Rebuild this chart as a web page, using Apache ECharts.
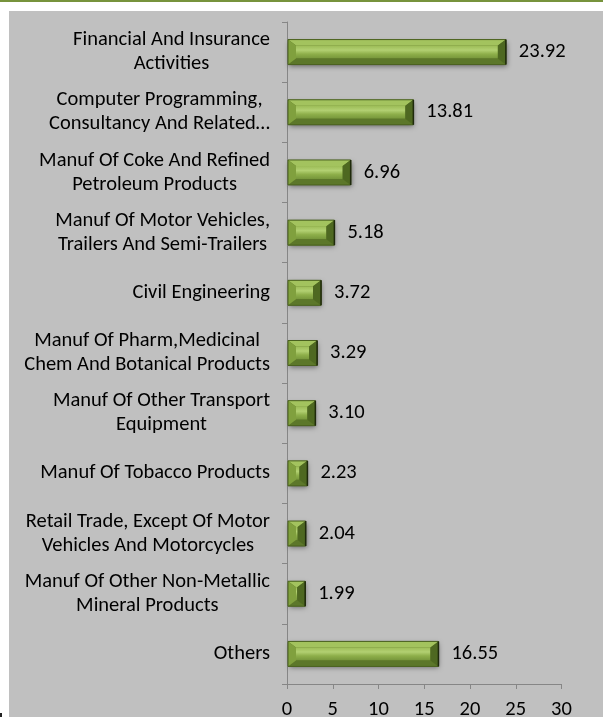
<!DOCTYPE html>
<html>
<head>
<meta charset="utf-8">
<script src="https://cdn.jsdelivr.net/npm/echarts@6/dist/echarts.min.js"></script>
<style>
  html, body { margin: 0; padding: 0; background: #ffffff; }
  #chart { width: 603px; height: 717px; }
</style>
</head>
<body>
<div id="chart"></div>
<script>
// Sector names (top to bottom) and their shares
const categories = [
  'Financial And Insurance\nActivities',
  'Computer Programming,\nConsultancy And Related…',
  'Manuf Of Coke And Refined\nPetroleum Products',
  'Manuf Of Motor Vehicles,\nTrailers And Semi-Trailers',
  'Civil Engineering',
  'Manuf Of Pharm,Medicinal\nChem And Botanical Products',
  'Manuf Of Other Transport\nEquipment',
  'Manuf Of Tobacco Products',
  'Retail Trade, Except Of Motor\nVehicles And Motorcycles',
  'Manuf Of Other Non-Metallic\nMineral Products',
  'Others'
];
const values = [23.92, 13.81, 6.96, 5.18, 3.72, 3.29, 3.10, 2.23, 2.04, 1.99, 16.55];

// Value axis ticks
const axisMin = 0;
const axisMax = 30;
const axisStep = 5;

const FONT = 'Carlito, Calibri, Lato, "Liberation Sans", sans-serif';
const FONT_SIZE = 20.5;

// Bevelled bar: base with drop shadow, four bevel faces, a shaded face and the value label
function renderBar(params, api) {
  const val = api.value(0);
  const idx = api.value(1);
  const base = api.coord([0, idx]);
  const tip = api.coord([val, idx]);
  const band = api.size([0, 1])[1];
  const h = Math.round(band * 0.41);
  const x0 = base[0] + 1;
  const x1 = tip[0];
  const yc = base[1];
  const y0 = yc - h / 2;
  const y1 = yc + h / 2;
  const w = x1 - x0;
  const bx = Math.min(8, w / 2);
  const by = Math.min(6, h / 2);

  return {
    type: 'group',
    children: [
      {
        type: 'rect',
        shape: { x: x0, y: y0, width: w, height: h },
        style: {
          fill: '#5b7526',
          shadowBlur: 5, shadowOffsetX: 1, shadowOffsetY: 2,
          shadowColor: 'rgba(0,0,0,0.45)'
        }
      },
      {
        type: 'rect',
        shape: { x: x0 + bx, y: y0 + by, width: Math.max(0, w - 2 * bx), height: h - 2 * by },
        style: {
          fill: new echarts.graphic.LinearGradient(0, 0, 0, 1, [
            { offset: 0, color: '#9cbc56' },
            { offset: 0.35, color: '#b2d072' },
            { offset: 0.65, color: '#8eaf4a' },
            { offset: 1, color: '#76963b' }
          ])
        }
      },
      {
        type: 'polygon',
        shape: { points: [[x0, y0], [x1, y0], [x1 - bx, y0 + by], [x0 + bx, y0 + by]] },
        style: { fill: '#a3c35e' }
      },
      {
        type: 'polygon',
        shape: { points: [[x0, y1], [x1, y1], [x1 - bx, y1 - by], [x0 + bx, y1 - by]] },
        style: { fill: '#5c772a' }
      },
      {
        type: 'polygon',
        shape: { points: [[x0, y0], [x0 + bx, y0 + by], [x0 + bx, y1 - by], [x0, y1]] },
        style: { fill: '#80a03e' }
      },
      {
        type: 'polygon',
        shape: { points: [[x1, y0], [x1 - bx, y0 + by], [x1 - bx, y1 - by], [x1, y1]] },
        style: { fill: '#4e6821' }
      },
      {
        type: 'rect',
        shape: { x: x0, y: y0, width: w, height: h },
        style: { fill: 'none', stroke: '#4a611f', lineWidth: 1 }
      },
      {
        type: 'line',
        shape: { x1: x1, y1: y0, x2: x1, y2: y1 },
        style: { stroke: '#1f2a0c', lineWidth: 1.5 }
      },
      {
        type: 'text',
        style: {
          text: val.toFixed(2),
          x: x1 + 13, y: yc,
          align: 'left', verticalAlign: 'middle',
          fontSize: FONT_SIZE, fontFamily: FONT, fill: '#000000'
        }
      }
    ]
  };
}

const chart = echarts.init(document.getElementById('chart'), null, { renderer: 'canvas' });

chart.setOption({
  animation: false,
  backgroundColor: '#ffffff',
  graphic: [
    { type: 'rect', shape: { x: 0, y: 0, width: 603, height: 2 }, style: { fill: '#77933c' }, z: -1 },
    { type: 'rect', shape: { x: 9, y: 11, width: 594, height: 706 }, style: { fill: '#c0c0c0' }, z: -1 },
    { type: 'rect', shape: { x: 0, y: 713, width: 2, height: 4 }, style: { fill: '#222222' }, z: -1 }
  ],
  grid: {
    left: 287, right: 41.5, top: 22, bottom: 33,
    containLabel: false,
    outerBoundsMode: 'none'
  },
  xAxis: {
    type: 'value',
    min: axisMin, max: axisMax, interval: axisStep,
    axisLine: { show: true, lineStyle: { color: '#868686', width: 1 } },
    axisTick: { show: true, length: 5, lineStyle: { color: '#868686' } },
    splitLine: { show: false },
    axisLabel: { fontSize: FONT_SIZE, fontFamily: FONT, color: '#000000', margin: 15 }
  },
  yAxis: {
    type: 'category',
    inverse: true,
    data: categories,
    axisLine: { show: true, lineStyle: { color: '#868686', width: 1 } },
    axisTick: { show: true, length: 5, lineStyle: { color: '#868686' } },
    axisLabel: {
      margin: 17,
      align: 'right',
      color: '#000000',
      fontSize: FONT_SIZE,
      fontFamily: FONT,
      formatter: function (v) {
        return v.split('\n').map(function (s) { return '{c|' + s + '}'; }).join('\n');
      },
      rich: {
        c: { align: 'center', fontSize: FONT_SIZE, fontFamily: FONT, color: '#000000', lineHeight: 24 }
      }
    }
  },
  series: [{
    type: 'custom',
    renderItem: renderBar,
    encode: { x: 0, y: 1 },
    data: values.map(function (v, i) { return [v, i]; }),
    clip: false
  }]
});
</script>
</body>
</html>
